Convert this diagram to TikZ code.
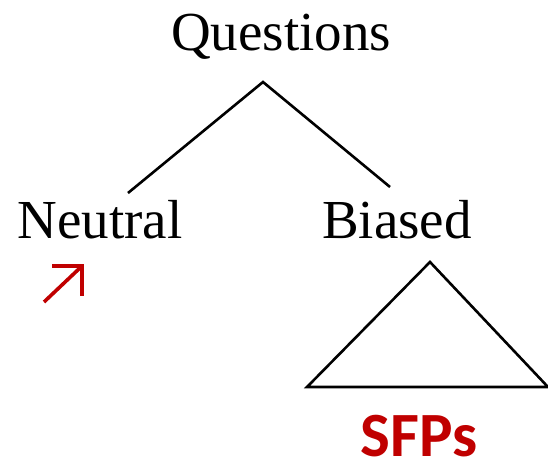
\documentclass[tikz,border=0pt]{standalone}
\usepackage{fontspec}
\setmainfont{Liberation Serif}
\newfontfamily\sfpfont{Carlito}
\usetikzlibrary{positioning}

\definecolor{sfpred}{RGB}{192,0,0}

\begin{document}
\begin{tikzpicture}[x=1pt, y=-1pt, line width=2.6pt,
    word/.style={inner sep=0pt, anchor=base, font=\fontsize{55}{60}\selectfont},
    treeline/.style={black, line join=miter}]
  \useasboundingbox (0,0) rectangle (548,464);

  \node (quest) [word] at (281,50) {Questions};
  \node (neut) [word] at (100,238) {Neutral};
  \node (bias) [word] at (397,238) {Biased};
  \node (sfp) [inner sep=0pt, anchor=base, text depth=0pt, text=sfpred,
               font=\sfpfont\bfseries\fontsize{63}{66}\selectfont] at (419,456) {SFPs};

  % branching under Questions
  \coordinate (apex) at (263,82);
  \coordinate (lend) at (128,193);
  \coordinate (rend) at (390,187);
  \draw[treeline] (lend) -- (apex) -- (rend);

  % triangle under Biased
  \coordinate (tri top) at (430,262);
  \coordinate (tri l) at (307,387);
  \coordinate (tri r) at (548,387);
  \draw[treeline] (tri top) -- (tri l) -- (tri r) -- cycle;

  % rising arrow under Neutral
  \coordinate (arr tail) at (44,302);
  \coordinate (arr tip) at (82,266);
  \draw[sfpred, line width=3.6pt] (arr tail) -- (arr tip);
  \draw[sfpred, line width=3.6pt, line join=miter]
    (52,266) -- (arr tip) -- (82,296);
\end{tikzpicture}
\end{document}
